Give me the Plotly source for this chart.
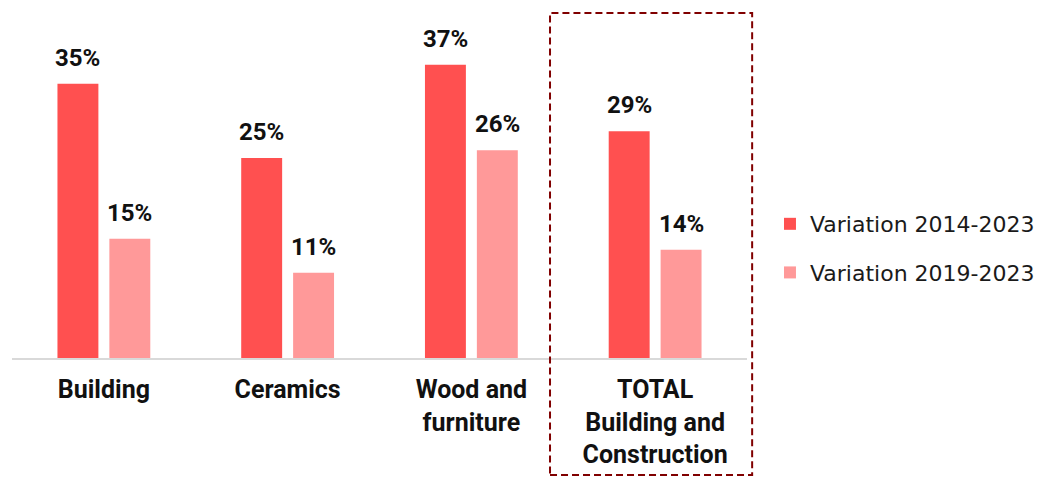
import plotly.graph_objects as go

categories = ["Building", "Ceramics", "Wood and<br>furniture", "TOTAL<br>Building and<br>Construction"]
series_names = ["Variation 2014-2023", "Variation 2019-2023"]
var_2014_2023 = [0.347, 0.253, 0.371, 0.287]
var_2019_2023 = [0.151, 0.108, 0.263, 0.137]
colors = ["#FF5050", "#FF9999"]

fig = go.Figure()
for name, vals, col, grp in [(series_names[0], var_2014_2023, colors[0], "a"),
                             (series_names[1], var_2019_2023, colors[1], "b")]:
    fig.add_trace(go.Bar(
        x=categories, y=vals, name=name, marker_color=col,
        marker_line_width=0, legendgroup=grp,
    ))

# value labels above bars
for vals, shift in [(var_2014_2023, -26), (var_2019_2023, 26)]:
    for c, v in zip(categories, vals):
        fig.add_annotation(
            x=c, y=v, xref="x", yref="y", text=f"{round(v * 100)}%", showarrow=False,
            xshift=shift, yshift=10, yanchor="bottom",
            font=dict(family="Roboto", size=24, color="#111111", weight="bold"),
        )

# dashed highlight box around TOTAL
fig.add_shape(
    type="rect", xref="paper", yref="paper",
    x0=0.732, x1=1.007, y0=-0.357, y1=1.052,
    line=dict(color="#800000", width=2, dash="7px,4px"),
    fillcolor="rgba(0,0,0,0)", layer="above",
)

fig.update_layout(
    width=1037, height=477,
    margin=dict(l=12, r=290, t=30, b=119, autoexpand=False),
    paper_bgcolor="white", plot_bgcolor="white",
    barmode="group", bargap=0.435, bargroupgap=0.2115,
    showlegend=True,
    legend=dict(
        xref="container", yref="container",
        x=0.7425, xanchor="left", y=0.479, yanchor="middle",
        traceorder="grouped", tracegroupgap=17,
        font=dict(family="DejaVu Sans", size=22, color="#1a1a1a"),
        bgcolor="rgba(0,0,0,0)",
    ),
    xaxis=dict(
        range=[-0.5, len(categories) - 0.5],
        showline=True, linecolor="#D9D9D9", linewidth=2,
        showgrid=False, ticks="", ticklabelstandoff=8, automargin=False,
        tickfont=dict(family="Roboto", size=25, color="#111111", weight="bold"),
    ),
    yaxis=dict(range=[0, 0.415], visible=False, showgrid=False, zeroline=False,
               automargin=False),
)

fig.write_html(
    "out.html",
    config={"displayModeBar": False},
    post_script="document.body.style.margin='0';document.body.style.overflow='hidden';",
)
